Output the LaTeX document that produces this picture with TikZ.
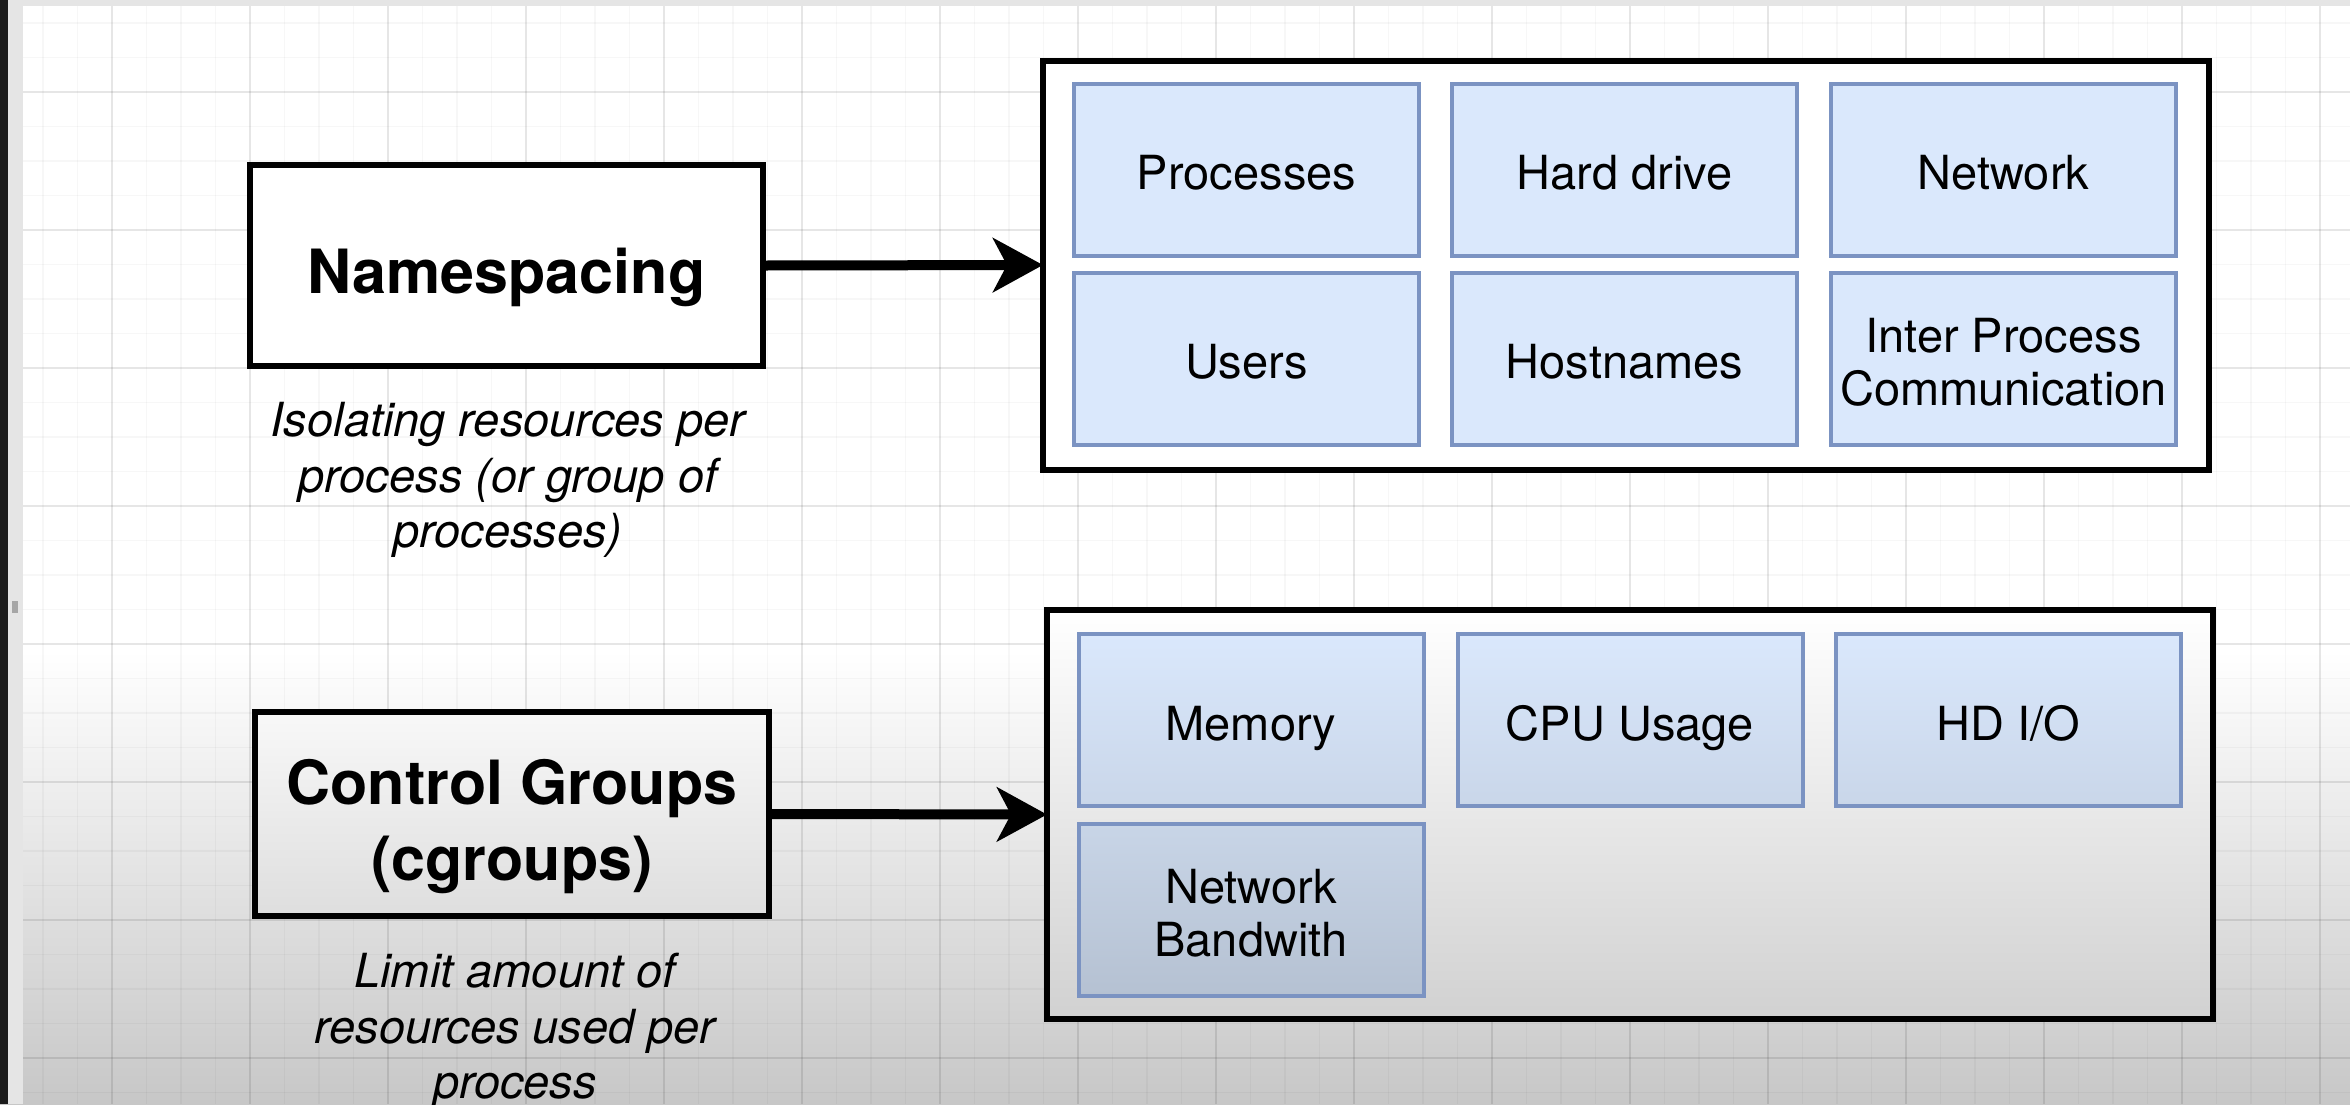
\documentclass[tikz,border=0pt]{standalone}
\usepackage{fontspec}
\setmainfont{TeX Gyre Heros}
\usetikzlibrary{arrows.meta}
\definecolor{cellfill}{HTML}{DAE8FC}
\definecolor{cellline}{HTML}{7B93C2}
\definecolor{edgedark}{HTML}{1B1B1B}
\definecolor{edgelight}{HTML}{E5E5E5}
% tones of the darkening toward the bottom of the frame
\definecolor{floorgray}{HTML}{C7C7C7}
\definecolor{groupfloor}{HTML}{D1D1D1}
\definecolor{cgtop}{HTML}{F8F8F8}
\definecolor{cgfloor}{HTML}{DEDEDE}
\definecolor{rowonefloor}{HTML}{C9D6E9}
\definecolor{rowtwotop}{HTML}{C8D5E7}
\definecolor{rowtwofloor}{HTML}{B5C1D2}
% label fonts; fixed baselineskip whatever the glyphs
\newcommand\titlefont{\fontsize{61}{76}\selectfont\bfseries\setlength{\lineskiplimit}{-1000pt}}
\newcommand\cellfont{\fontsize{47}{53}\selectfont\setlength{\lineskiplimit}{-1000pt}}
% struts that fix the baseline of every label line inside its box
\newcommand\titlestrut{\rule[-14pt]{0pt}{84pt}}
\newcommand\cellstrut{\rule[-12pt]{0pt}{64pt}}
\begin{document}
\begin{tikzpicture}[x=1pt,y=-1pt,
  titlebox/.style={draw=black, line width=6pt, fill=white, inner sep=0pt, outer sep=0pt,
    align=center, font=\titlefont},
  groupbox/.style={draw=black, line width=6pt, fill=white, inner sep=0pt, outer sep=0pt,
    minimum width=1166pt, minimum height=409pt},
  cell/.style={draw=cellline, line width=4pt, fill=cellfill, inner sep=0pt, outer sep=0pt,
    minimum width=345pt, minimum height=172pt, align=center, font=\cellfont},
  caption/.style={align=center, inner sep=0pt, font=\fontsize{47}{55.5}\selectfont\itshape},
  feed/.style={line width=10pt, -{Stealth[length=50pt,width=54pt,inset=14pt]}},
  gridminor/.style={draw=black, draw opacity=0.03, line width=1.5pt},
  gridmajor/.style={draw=black, draw opacity=0.065, line width=2pt}]

\useasboundingbox (0,0) rectangle (2350,1104);
\fill[white] (0,0) rectangle (2350,650);
\shade[top color=white, bottom color=floorgray] (0,650) rectangle (2350,1104);

% drawing-canvas grid
\foreach \k in {0,...,68} \draw[gridminor] ({8.5+\k*34.5},0) -- ++(0,1104);
\foreach \k in {0,...,31} \draw[gridminor] (0,{23+\k*34.5}) -- ++(2350,0);
\foreach \k in {0,...,16} \draw[gridmajor] ({112+\k*138},0) -- ++(0,1104);
\foreach \k in {0,...,7} \draw[gridmajor] (0,{92+\k*138}) -- ++(2350,0);

% namespacing row
\node[titlebox, minimum width=513pt, minimum height=201pt] (ns) at (506.5,265.5) {\titlestrut Namespacing};
\node[caption] (nscap) at (508,480) {Isolating resources per\\process (or group of\\processes)};
\node[groupbox] (nsgroup) at (1626,265) {};
\node[cell] (proc) at (1246.5,169.5) {\cellstrut Processes};
\node[cell] (disk) at (1624.5,169.5) {\cellstrut Hard drive};
\node[cell] (net)  at (2003.5,169.5) {\cellstrut Network};
\node[cell] (users) at (1246.5,358.5) {\cellstrut Users};
\node[cell] (hosts) at (1624.5,358.5) {\cellstrut Hostnames};
\node[cell] (ipc)  at (2003.5,358.5) {\cellstrut Inter Process\\\cellstrut Communication};
\draw[feed] (ns.east) -- (nsgroup.west);

% control groups row
\node[titlebox, minimum width=514pt, minimum height=204pt, top color=cgtop, bottom color=cgfloor]
  (cg) at (512,814) {\titlestrut Control Groups\\\titlestrut(cgroups)};
\node[caption] (cgcap) at (515,1031) {Limit amount of\\resources used per\\process};
\node[groupbox, top color=white, bottom color=groupfloor] (cggroup) at (1630,814.5) {};
\node[cell, top color=cellfill, bottom color=rowonefloor] (mem) at (1251,720) {\cellstrut Memory};
\node[cell, top color=cellfill, bottom color=rowonefloor] (cpu) at (1630,720) {\cellstrut CPU Usage};
\node[cell, top color=cellfill, bottom color=rowonefloor] (hdio) at (2008.5,720) {\cellstrut HD I/O};
\node[cell, top color=rowtwotop, bottom color=rowtwofloor] (bw) at (1251,909.5) {\cellstrut Network\\\cellstrut Bandwith};
\draw[feed] (cg.east) -- (cggroup.west);

% window edges
\fill[edgelight] (0,0) rectangle (2350,6);
\fill[edgelight] (8,0) rectangle (23,1104);
\fill[edgedark] (0,0) rectangle (8,1104);
\fill[gray!70] (12,601) rectangle (18,613);
\end{tikzpicture}
\end{document}
